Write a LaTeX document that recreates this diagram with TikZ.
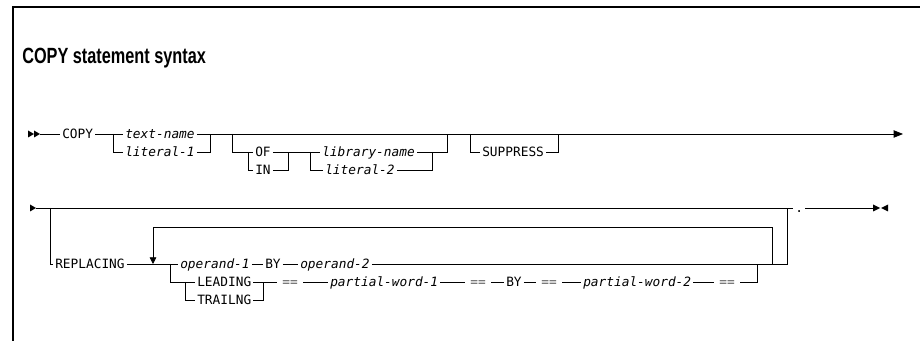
\documentclass[tikz,border=0pt]{standalone}
\usepackage{fontspec}
\setmainfont{Liberation Sans}
\newfontfamily\railfont{DejaVu Sans Mono}
\newfontfamily\titlefont[FakeStretch=0.74]{Liberation Sans Bold}
\usetikzlibrary{positioning,arrows.meta}

\begin{document}
\begin{tikzpicture}[x=0.75pt, y=-0.75pt,
    rail/.style={draw=black, line width=0.6pt},
    kw/.style={font=\railfont\fontsize{9.6}{10}\selectfont, inner xsep=1.5pt, inner ysep=0pt,
               text height=7pt, text depth=0pt, anchor=west},
    var/.style={kw, font=\railfont\itshape\fontsize{9.6}{10}\selectfont},
    eq/.style={kw, anchor=center, inner xsep=4pt, text=black!65}]
    \useasboundingbox (0,0) rectangle (920,341);

    % frame and heading
    \draw[line width=0.8pt] (13,341) -- (13,7) -- (920,7);
    \node[anchor=base west, inner sep=0pt, font=\titlefont\fontsize{16.5}{18}\selectfont] (title) at (22,64) {COPY statement syntax};

    % first line
    \fill (28,130.5) -- (34,134) -- (28,137.5) -- cycle;
    \fill (34,130.5) -- (40,134) -- (34,137.5) -- cycle;
    \coordinate (start1) at (40,134);
    \coordinate (end1) at (903,134);
    \node[kw]  (copy)     at (60,134)  {COPY};
    \node[var] (txtname)  at (123,134) {text-name};
    \node[var] (lit1)     at (123,152) {literal-1};
    \node[kw]  (of)       at (253,152) {OF};
    \node[kw]  (in)       at (253,170) {IN};
    \node[var] (libname)  at (320,152) {library-name};
    \node[var] (lit2)     at (323,170) {literal-2};
    \node[kw]  (suppress) at (480,152) {SUPPRESS};

    \coordinate (tn1) at (113,134);
    \coordinate (tn2) at (210,134);
    \coordinate (lib1) at (232,134);
    \coordinate (lib2) at (447,134);
    \coordinate (ofin1) at (248,152);
    \coordinate (ofin2) at (288,152);
    \coordinate (ln1) at (310,152);
    \coordinate (ln2) at (432,152);
    \coordinate (sup1) at (470,134);
    \coordinate (sup2) at (558,134);

    \draw[rail] (start1) -- (copy.west);
    \draw[rail] (copy.east) -- (txtname.west);
    \draw[rail, -{Triangle[length=7pt,width=5.5pt]}] (txtname.east) -- (end1);
    \draw[rail] (tn1) |- (lit1.west);
    \draw[rail] (lit1.east) -| (tn2);
    % OF / IN library-name
    \draw[rail] (lib1) |- (of.west);
    \draw[rail] (of.east) -- (libname.west);
    \draw[rail] (ofin1) |- (in.west);
    \draw[rail] (in.east) -| (ofin2);
    \draw[rail] (ln1) |- (lit2.west);
    \draw[rail] (lit2.east) -| (ln2);
    \draw[rail] (libname.east) -| (lib2);
    % SUPPRESS
    \draw[rail] (sup1) |- (suppress.west);
    \draw[rail] (suppress.east) -| (sup2);

    % second line
    \fill (30,204.5) -- (36,208) -- (30,211.5) -- cycle;
    \fill (873,204.5) -- (880,208) -- (873,211.5) -- cycle;
    \fill (888,204.5) -- (881,208) -- (888,211.5) -- cycle;
    \coordinate (start2) at (36,208);
    \coordinate (end2) at (873,208);
    \node[kw]  (replacing) at (53,264)  {REPLACING};
    \node[var] (op1)       at (178,264) {operand-1};
    \node[kw]  (by1)       at (263,264) {BY};
    \node[var] (op2)       at (298,264) {operand-2};
    \node[kw]  (leading)   at (195,282) {LEADING};
    \node[kw]  (trailng)   at (195,300) {TRAILNG};
    \node[eq]  (eq1)       at (290,282) {==};
    \node[var] (pw1)       at (328,282) {partial-word-1};
    \node[eq]  (eq2)       at (478,282) {==};
    \node[kw]  (by2)       at (504,282) {BY};
    \node[eq]  (eq3)       at (549,282) {==};
    \node[var] (pw2)       at (581,282) {partial-word-2};
    \node[eq]  (eq4)       at (727,282) {==};
    \node[kw]  (dot)       at (793,208) {.};

    \coordinate (rep1) at (50,208);
    \coordinate (rep2) at (787,208);
    \coordinate (loop1) at (153,264);
    \coordinate (looptop) at (153,227);
    \coordinate (loop2) at (772,264);
    \coordinate (opt1) at (170,264);
    \coordinate (lt1) at (185,282);
    \coordinate (lt2) at (263,282);
    \coordinate (pw3) at (757,264);

    \draw[rail] (start2) -- (dot.west);
    \draw[rail] (dot.east) -- (end2);
    \draw[rail] (rep1) |- (replacing.west);
    \draw[rail] (replacing.east) -- (op1.west);
    \draw[rail] (op1.east) -- (by1.west);
    \draw[rail] (by1.east) -- (op2.west);
    \draw[rail] (op2.east) -| (rep2);
    % repeat loop
    \draw[rail, -{Triangle[length=5pt,width=5pt]}] (loop2) |- (looptop) -- (loop1);
    % LEADING / TRAILNG
    \draw[rail] (opt1) |- (leading.west);
    \draw[rail] (lt1) |- (trailng.west);
    \draw[rail] (trailng.east) -| (lt2);
    \draw[rail] (leading.east) -- (eq1.west);
    \draw[rail] (eq1.east) -- (pw1.west);
    \draw[rail] (pw1.east) -- (eq2.west);
    \draw[rail] (eq2.east) -- (by2.west);
    \draw[rail] (by2.east) -- (eq3.west);
    \draw[rail] (eq3.east) -- (pw2.west);
    \draw[rail] (pw2.east) -- (eq4.west);
    \draw[rail] (eq4.east) -| (pw3);
\end{tikzpicture}
\end{document}
